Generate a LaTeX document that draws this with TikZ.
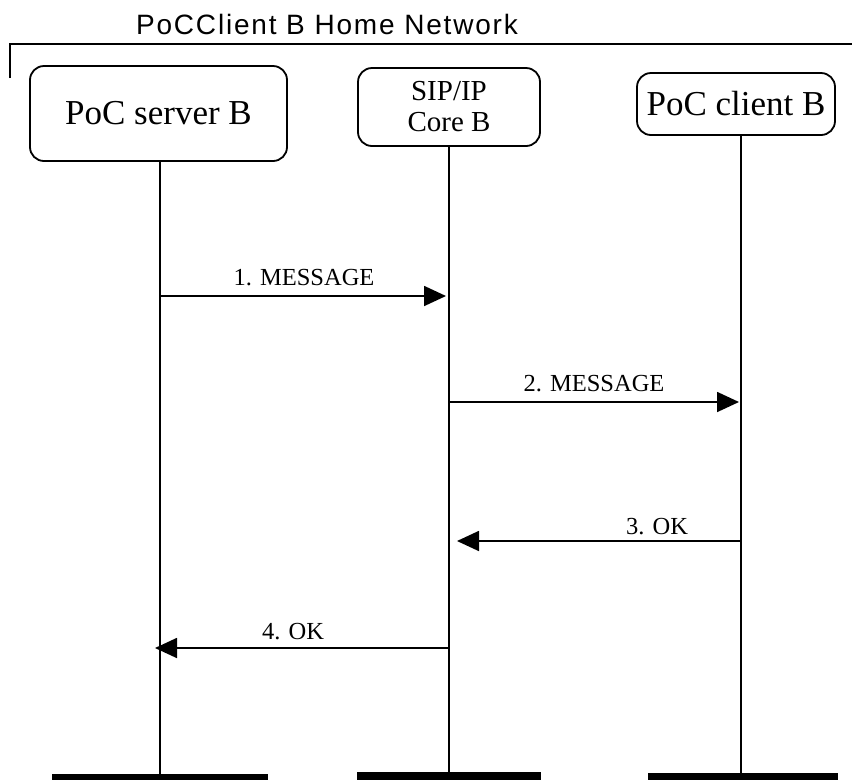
\documentclass[tikz,border=0pt]{standalone}
\usepackage{fontspec}
\setmainfont{Liberation Serif}
\newfontfamily\netfont[LetterSpace=6.5]{Liberation Sans}
\usetikzlibrary{arrows.meta}

\begin{document}
\begin{tikzpicture}[
  x=1pt, y=-1pt,
  every node/.style={font=\fontsize{24.5}{28}\selectfont},
  entidade/.style={rectangle, rounded corners=14pt, draw=black, line width=1.8pt, align=center, inner sep=2pt},
  fim/.style={rectangle, fill=black, inner sep=0pt},
  vida/.style={line width=1.4pt},
  msg/.style={line width=1.8pt, -{Triangle[length=22pt,width=20pt]}}
]
\useasboundingbox (0,0) rectangle (852,780);
% dominio
\node[font=\netfont\fontsize{28}{30}\selectfont] (dom) at (327,24) {PoCClient B Home Network};
\draw[line width=1.4pt] (10,78) -- (10,44) -- (852,44);
% entidades
\node[entidade, minimum width=257pt, minimum height=95pt, font=\fontsize{35}{40}\selectfont] (srv) at (158.5,113.5) {PoC server B};
\node[entidade, minimum width=182pt, minimum height=78pt, font=\fontsize{29}{31}\selectfont] (core) at (449,107) {SIP/IP\\Core B};
\node[entidade, minimum width=198pt, minimum height=62pt, font=\fontsize{35}{36}\selectfont] (cli) at (736,104) {PoC client B};
% fins
\node[fim, minimum width=216pt, minimum height=6pt] (srvfim) at (160,777) {};
\node[fim, minimum width=184pt, minimum height=8pt] (corefim) at (449,776) {};
\node[fim, minimum width=190pt, minimum height=7pt] (clifim) at (743,776.5) {};
% linhas de vida
\draw[vida] (srv.south -| 160,0) -- (srvfim.north -| 160,0);
\draw[vida] (core.south) -- (corefim.north);
\draw[vida] (cli.south -| 741,0) -- (clifim.north -| 741,0);
% pontos das mensagens
\coordinate (m1a) at (160,296);
\coordinate (m1b) at (446,296);
\coordinate (m2a) at (449,402);
\coordinate (m2b) at (739,402);
\coordinate (m3a) at (741,541);
\coordinate (m3b) at (457,541);
\coordinate (m4a) at (449,648);
\coordinate (m4b) at (155,648);
% mensagens
\draw[msg] (m1a) -- (m1b);
\draw[msg] (m2a) -- (m2b);
\draw[msg] (m3a) -- (m3b);
\draw[msg] (m4a) -- (m4b);
\node (l1) at (304,278) {1. MESSAGE};
\node (l2) at (594,384) {2. MESSAGE};
\node (l3) at (657,527) {3. OK};
\node (l4) at (293,632) {4. OK};
\end{tikzpicture}
\end{document}
